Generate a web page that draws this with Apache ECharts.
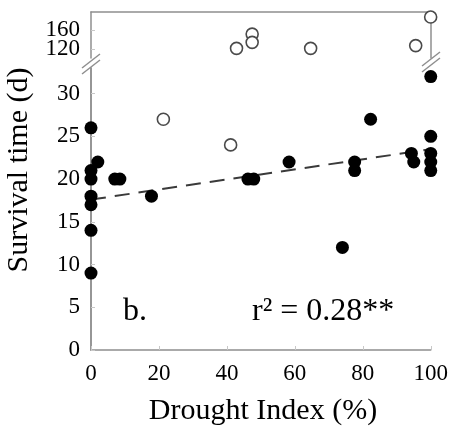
<!DOCTYPE html>
<html>
<head>
<meta charset="utf-8">
<script src="https://cdn.jsdelivr.net/npm/echarts@6/dist/echarts.min.js"></script>
<style>html,body{margin:0;padding:0;background:#fff}#c{width:451px;height:430px}</style>
</head>
<body>
<div id="c"></div>
<script>
// Filled points: [Drought Index (%), Survival time (d)]
var filledPoints = [
  [0, 26], [0, 21], [0, 20], [2, 22], [0, 18], [0, 17], [0, 14], [0, 9],
  [7, 20], [8.5, 20], [17.8, 18], [46.2, 20], [47.9, 20], [58.3, 22],
  [74, 12], [77.6, 22], [77.6, 21], [82.3, 27], [94.3, 23], [95, 22],
  [100, 32], [100, 25], [100, 23], [100, 22], [100, 21]
];
// Open points in the lower (0-33 d) panel
var openLower = [[21.3, 27], [41.1, 24]];
// Open points in the upper (100-200 d) panel
var openUpper = [[42.8, 121], [47.4, 152], [47.4, 134], [64.6, 121], [95.5, 127], [99.9, 189]];
// Regression line end points
var trendLine = [[0, 17.6], [100, 23.5]];
var xTicks = [0, 20, 40, 60, 80, 100];
var yTicksLower = [0, 5, 10, 15, 20, 25, 30];
var yTicksUpper = [120, 160];
var xTitle = 'Drought Index (%)';
var yTitle = 'Survival time (d)';
var panelLabel = 'b.';
var statLabel = 'r\u00B2 = 0.28**';

var FONT = '"Liberation Serif", "Times New Roman", serif';
var AX = '#8f8f8f';
var chart = echarts.init(document.getElementById('c'), null, {renderer: 'canvas'});

var G0 = {left: 91, right: 20, top: 12, height: 46};
var G1 = {left: 91, right: 20, top: 68, bottom: 80};

function frameAxis(extra) {
  return Object.assign({
    axisLine: {show: true, lineStyle: {color: AX, width: 1.5}},
    axisTick: {show: false}, axisLabel: {show: false}, splitLine: {show: false}
  }, extra);
}

// one left axis per upper tick so the close labels are not culled as overlapping
function upperLabelAxis(v, showLine) {
  return {
    gridIndex: 0, type: 'value', min: 100, max: 200, position: 'left',
    axisLine: {show: showLine, lineStyle: {color: AX, width: 1.5}},
    axisTick: {show: true, inside: true, length: 4, lineStyle: {color: '#c8c8c8', width: 1},
      customValues: [v]},
    axisLabel: {show: true, margin: 11, color: '#000', fontFamily: FONT, fontSize: 23,
      showMinLabel: true, showMaxLabel: true, customValues: [v]},
    splitLine: {show: false}
  };
}

var yAxes = [];
yTicksUpper.forEach(function (v, i) { yAxes.push(upperLabelAxis(v, i === 0)); });
var upperIdx = 0;
yAxes.push(frameAxis({gridIndex: 0, type: 'value', min: 100, max: 200, position: 'right'}));
var lowerIdx = yAxes.length;
yAxes.push({
  gridIndex: 1, type: 'value', min: 0, max: 33, position: 'left',
  axisLine: {show: true, onZero: false, lineStyle: {color: AX, width: 1.5}},
  axisTick: {show: true, inside: true, length: 4, lineStyle: {color: '#c8c8c8', width: 1},
    customValues: yTicksLower},
  axisLabel: {show: true, margin: 11, color: '#000', fontFamily: FONT, fontSize: 23,
    customValues: yTicksLower},
  splitLine: {show: false}
});
yAxes.push(frameAxis({gridIndex: 1, type: 'value', min: 0, max: 33, position: 'right'}));

var option = {
  animation: false,
  backgroundColor: '#fff',
  grid: [G0, G1],
  xAxis: [
    frameAxis({gridIndex: 0, type: 'value', min: 0, max: 100, position: 'top'}),
    {
      gridIndex: 1, type: 'value', min: 0, max: 100, interval: 20, position: 'bottom',
      axisLine: {show: true, onZero: false, lineStyle: {color: AX, width: 1.5}},
      axisTick: {show: true, inside: true, length: 4, lineStyle: {color: '#c8c8c8', width: 1}},
      axisLabel: {show: true, margin: 12, color: '#000', fontFamily: FONT, fontSize: 23,
        customValues: xTicks},
      splitLine: {show: false}
    }
  ],
  yAxis: yAxes,
  series: [
    {
      type: 'line', xAxisIndex: 1, yAxisIndex: lowerIdx, data: trendLine, symbol: 'none',
      lineStyle: {color: '#3a3a3a', width: 2, type: [15, 9]}, z: 2, silent: true
    },
    {
      type: 'scatter', xAxisIndex: 1, yAxisIndex: lowerIdx, data: filledPoints, symbol: 'circle',
      symbolSize: 13, itemStyle: {color: '#000', opacity: 1}, z: 3, clip: false
    },
    {
      type: 'scatter', xAxisIndex: 1, yAxisIndex: lowerIdx, data: openLower, symbol: 'circle',
      symbolSize: 12, itemStyle: {color: '#fff', borderColor: '#4a4a4a', borderWidth: 1.6, opacity: 1},
      z: 3, clip: false
    },
    {
      type: 'scatter', xAxisIndex: 0, yAxisIndex: upperIdx, data: openUpper, symbol: 'circle',
      symbolSize: 12, itemStyle: {color: '#fff', borderColor: '#4a4a4a', borderWidth: 1.6, opacity: 1},
      z: 3, clip: false
    }
  ]
};
chart.setOption(option);

// Axis-break marks, text labels
function breakMarks(x, y) {
  var els = [];
  [-3, 3].forEach(function (d) {
    els.push({
      type: 'line', z: 10,
      shape: {x1: x - 9, y1: y + d + 7, x2: x + 9, y2: y + d - 7},
      style: {stroke: AX, lineWidth: 1.5}
    });
  });
  return els;
}
var leftX = G0.left, rightX = 451 - G0.right;
var gapY = (G0.top + G0.height + G1.top) / 2;
var graphics = []
  .concat(breakMarks(leftX, gapY + 1))
  .concat(breakMarks(rightX, gapY - 1));
graphics.push({
  type: 'text', z: 10, x: 263, y: 411,
  style: {text: xTitle, font: '30px ' + FONT, fill: '#000', textAlign: 'center', textVerticalAlign: 'middle'}
});
graphics.push({
  type: 'text', z: 10, x: 19, y: 170, rotation: Math.PI / 2,
  style: {text: yTitle, font: '30px ' + FONT, fill: '#000', textAlign: 'center', textVerticalAlign: 'middle'}
});
graphics.push({
  type: 'text', z: 10, x: 123, y: 312,
  style: {text: panelLabel, font: '32px ' + FONT, fill: '#000', textAlign: 'left', textVerticalAlign: 'middle'}
});
graphics.push({
  type: 'text', z: 10, x: 252, y: 312,
  style: {text: statLabel, font: '32px ' + FONT, fill: '#000', textAlign: 'left', textVerticalAlign: 'middle'}
});
chart.setOption({graphic: graphics});
</script>
</body>
</html>
